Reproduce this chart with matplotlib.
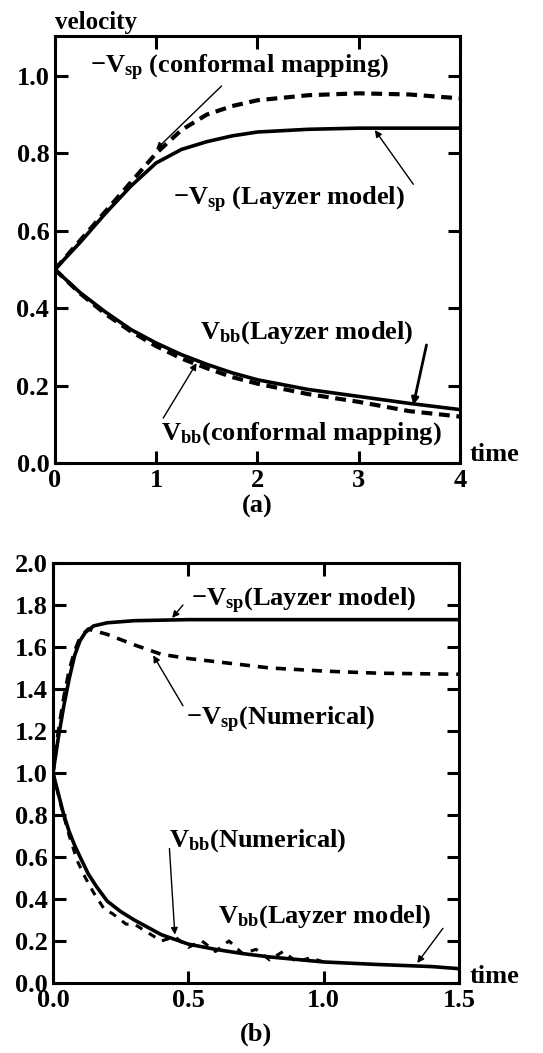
import numpy as np
import matplotlib.pyplot as plt

plt.rcParams['font.family'] = 'Liberation Serif'
plt.rcParams['font.weight'] = 'bold'
plt.rcParams['mathtext.fontset'] = 'custom'
plt.rcParams['mathtext.rm'] = 'Liberation Serif:bold'
plt.rcParams['mathtext.bf'] = 'Liberation Serif:bold'
plt.rcParams['mathtext.it'] = 'Liberation Serif:bold'

### PANEL (a) data
t_a = [0, 0.25, 0.5, 0.75, 1.0, 1.25, 1.5, 1.75, 2.0, 2.5, 3.0, 3.5, 4.0]
vsp_layzer_a = [0.50, 0.57, 0.645, 0.715, 0.775, 0.81, 0.83, 0.845, 0.855, 0.862, 0.865, 0.865, 0.865]
vsp_conf_a = [0.50, 0.575, 0.65, 0.725, 0.80, 0.86, 0.90, 0.922, 0.937, 0.95, 0.955, 0.952, 0.942]
vbb_layzer_a = [0.50, 0.44, 0.39, 0.345, 0.31, 0.28, 0.255, 0.233, 0.215, 0.19, 0.172, 0.154, 0.138]
vbb_conf_a = [0.50, 0.438, 0.385, 0.34, 0.302, 0.27, 0.245, 0.222, 0.205, 0.178, 0.158, 0.134, 0.12]

### PANEL (b) data
t_sp_b = [0, 0.02, 0.04, 0.06, 0.08, 0.10, 0.12, 0.15, 0.2, 0.3, 0.5, 1.0, 1.5]
vsp_layzer_b = [1.0, 1.17, 1.32, 1.45, 1.56, 1.63, 1.67, 1.70, 1.715, 1.725, 1.73, 1.73, 1.73]
t_spn_b = [0, 0.02, 0.04, 0.06, 0.08, 0.10, 0.13, 0.2, 0.3, 0.4, 0.5, 0.6, 0.8, 1.0, 1.2, 1.5]
vsp_num_b = [1.0, 1.2, 1.36, 1.49, 1.58, 1.645, 1.685, 1.66, 1.61, 1.565, 1.545, 1.53, 1.50, 1.485, 1.475, 1.47]
t_bb_b = [0, 0.02, 0.04, 0.06, 0.08, 0.1, 0.13, 0.16, 0.2, 0.25, 0.3, 0.4, 0.5, 0.6, 0.7, 0.8, 1.0, 1.2, 1.4, 1.5]
vbb_layzer_b = [1.0, 0.9, 0.8, 0.72, 0.655, 0.6, 0.52, 0.46, 0.39, 0.34, 0.30, 0.23, 0.185, 0.16, 0.14, 0.124, 0.10, 0.088, 0.078, 0.068]
t_bbn_b = [0, 0.03, 0.06, 0.09, 0.12, 0.15, 0.19, 0.22, 0.27, 0.3, 0.35, 0.4, 0.45, 0.5, 0.55, 0.6, 0.65, 0.7, 0.75, 0.8, 0.85, 0.9, 0.95, 1.0]
vbb_num_b = [1.0, 0.84, 0.7, 0.58, 0.5, 0.43, 0.35, 0.33, 0.28, 0.28, 0.24, 0.2, 0.22, 0.17, 0.2, 0.15, 0.2, 0.14, 0.16, 0.11, 0.15, 0.1, 0.12, 0.1]

fs = 19
fig = plt.figure(figsize=(5.43, 10.53), dpi=100)

def style(ax):
    for s in ax.spines.values():
        s.set_linewidth(2.2)
    ax.tick_params(axis='both', which='major', direction='in', length=9, width=2.2,
                   top=True, right=True, labelsize=fs, pad=4)
    for lab in ax.get_xticklabels() + ax.get_yticklabels():
        lab.set_fontweight('bold')

arr = dict(arrowstyle='-|>', color='k', lw=1.0, mutation_scale=10, shrinkA=0, shrinkB=0)

# (a)
ax = fig.add_axes([0.101, 0.5603, 0.746, 0.4055])
ax.plot(t_a, vsp_conf_a, color='k', lw=3, ls=(0, (2.6, 1.6)))
ax.plot(t_a, vsp_layzer_a, color='k', lw=2.6)
ax.plot(t_a, vbb_conf_a, color='k', lw=3, ls=(0, (2.6, 1.6)))
ax.plot(t_a, vbb_layzer_a, color='k', lw=2.6)
ax.set_xlim(0, 4)
ax.set_ylim(0, 1.103)
ax.set_xticks([0, 1, 2, 3, 4])
ax.set_yticks([0.0, 0.2, 0.4, 0.6, 0.8, 1.0])
ax.set_yticklabels(['0.0', '0.2', '0.4', '0.6', '0.8', '1.0'])
style(ax)
ax.annotate(r'$-\mathrm{V}_{\mathrm{sp}}$ (conformal mapping)', xy=(1.0, 0.81), xytext=(0.35, 1.02),
            fontsize=fs, va='center', ha='left', arrowprops=arr)
ax.annotate(r'$-\mathrm{V}_{\mathrm{sp}}$ (Layzer model)', xy=(3.16, 0.86), xytext=(1.17, 0.68),
            fontsize=fs, va='center', ha='left')
ax.annotate('', xy=(3.16, 0.86), xytext=(3.54, 0.72), arrowprops=arr)
ax.annotate(r'$\mathrm{V}_{\mathrm{bb}}$(Layzer model)', xy=(3.54, 0.15), xytext=(1.43, 0.336),
            fontsize=fs, va='center', ha='left')
ax.annotate('', xy=(3.54, 0.15), xytext=(3.67, 0.305),
            arrowprops=dict(arr, lw=2.0))
ax.annotate(r'$\mathrm{V}_{\mathrm{bb}}$(conformal mapping)', xy=(1.4, 0.258), xytext=(1.05, 0.077),
            fontsize=fs, va='center', ha='left')
ax.annotate('', xy=(1.4, 0.258), xytext=(1.07, 0.116), arrowprops=arr)
ax.text(0.0, 1.005, 'velocity', transform=ax.transAxes, fontsize=18, ha='left', va='bottom')
ax.text(1.025, 0.02, 'time', transform=ax.transAxes, fontsize=fs, ha='left', va='center')
ax.text(0.5, -0.075, '(a)', transform=ax.transAxes, fontsize=fs, ha='center', va='top')

# (b)
ax = fig.add_axes([0.0976, 0.0665, 0.748, 0.3989])
ax.plot(t_spn_b, vsp_num_b, color='k', lw=2.6, ls=(0, (2.8, 2.2)))
ax.plot(t_sp_b, vsp_layzer_b, color='k', lw=2.6)
ax.plot(t_bbn_b, vbb_num_b, color='k', lw=2.2, ls=(0, (2.5, 2.5)))
ax.plot(t_bb_b, vbb_layzer_b, color='k', lw=2.6)
ax.set_xlim(0, 1.5)
ax.set_ylim(0, 2.0)
ax.set_xticks([0.0, 0.5, 1.0, 1.5])
ax.set_xticklabels(['0.0', '0.5', '1.0', '1.5'])
ax.set_yticks(np.arange(0, 2.01, 0.2))
ax.set_yticklabels(['0.0', '0.2', '0.4', '0.6', '0.8', '1.0', '1.2', '1.4', '1.6', '1.8', '2.0'])
style(ax)
ax.annotate(r'$-\mathrm{V}_{\mathrm{sp}}$(Layzer model)', xy=(0.44, 1.738), xytext=(0.51, 1.82),
            fontsize=fs, va='center', ha='left')
ax.annotate('', xy=(0.44, 1.738), xytext=(0.48, 1.80), arrowprops=arr)
ax.annotate(r'$-\mathrm{V}_{\mathrm{sp}}$(Numerical)', xy=(0.37, 1.56), xytext=(0.49, 1.25),
            fontsize=fs, va='center', ha='left')
ax.annotate('', xy=(0.37, 1.56), xytext=(0.48, 1.32), arrowprops=arr)
ax.annotate(r'$\mathrm{V}_{\mathrm{bb}}$(Numerical)', xy=(0.45, 0.23), xytext=(0.43, 0.68),
            fontsize=fs, va='center', ha='left')
ax.annotate('', xy=(0.45, 0.23), xytext=(0.43, 0.64), arrowprops=arr)
ax.annotate(r'$\mathrm{V}_{\mathrm{bb}}$(Layzer model)', xy=(1.345, 0.095), xytext=(0.61, 0.315),
            fontsize=fs, va='center', ha='left')
ax.annotate('', xy=(1.345, 0.095), xytext=(1.44, 0.26), arrowprops=arr)
ax.text(1.025, 0.015, 'time', transform=ax.transAxes, fontsize=fs, ha='left', va='center')
ax.text(0.5, -0.095, '(b)', transform=ax.transAxes, fontsize=fs, ha='center', va='top')

fig.savefig('out.png', dpi=100)
